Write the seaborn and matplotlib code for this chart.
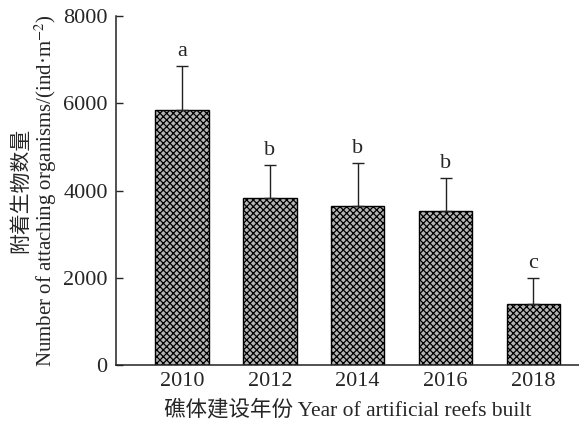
import numpy as np
import pandas as pd
import matplotlib
matplotlib.use("Agg")
import matplotlib.pyplot as plt
import seaborn as sns

# values
years = ["2010", "2012", "2014", "2016", "2018"]
means = [5840, 3830, 3640, 3530, 1390]
sd = [1010, 760, 990, 760, 610]
letters = ["a", "b", "b", "b", "c"]

df = pd.DataFrame({"year": years, "count": means})

sns.set_style("ticks")
plt.rcParams['font.family'] = ['Liberation Serif', 'Noto Sans CJK SC']
plt.rcParams['mathtext.fontset'] = 'stix'
plt.rcParams['hatch.linewidth'] = 0.9

fig = plt.figure(figsize=(5.79, 4.26), dpi=100)
ax = fig.add_axes([0.2003, 0.1432, 0.80, 0.8192])

sns.barplot(data=df, x="year", y="count", color="#b4b4b4", width=0.61,
            edgecolor="black", linewidth=1.0, ax=ax)
for p in ax.patches:
    p.set_hatch("xxxxx")

centers = [p.get_x() + p.get_width() / 2 for p in ax.patches]
ax.errorbar(centers, means, yerr=[np.zeros(len(sd)), sd], fmt="none",
            ecolor="#222222", elinewidth=1.0, capsize=4, capthick=1.0)

for x, m, s, t in zip(centers, means, sd, letters):
    ax.text(x, m + s + 110, t, ha="center", va="bottom", fontsize=16)

ax.set_ylim(0, 8000)
ax.set_xlim(-0.75, 4.52)
ax.set_yticks([0, 2000, 4000, 6000, 8000])
ax.tick_params(axis="y", direction="in", length=5, width=1.0, labelsize=16, pad=6)
ax.tick_params(axis="x", length=0, labelsize=16, pad=5)

ax.set_xlabel("礁体建设年份 Year of artificial reefs built", fontsize=15.5, labelpad=6)
ax.set_ylabel("附着生物数量\nNumber of attaching organisms/(ind·m$^{-2}$)",
              fontsize=15, labelpad=3, linespacing=1.05)

sns.despine(ax=ax)
for s in ["left", "bottom"]:
    ax.spines[s].set_linewidth(1.1)
    ax.spines[s].set_color("#222222")

fig.savefig("out.png", dpi=100)
